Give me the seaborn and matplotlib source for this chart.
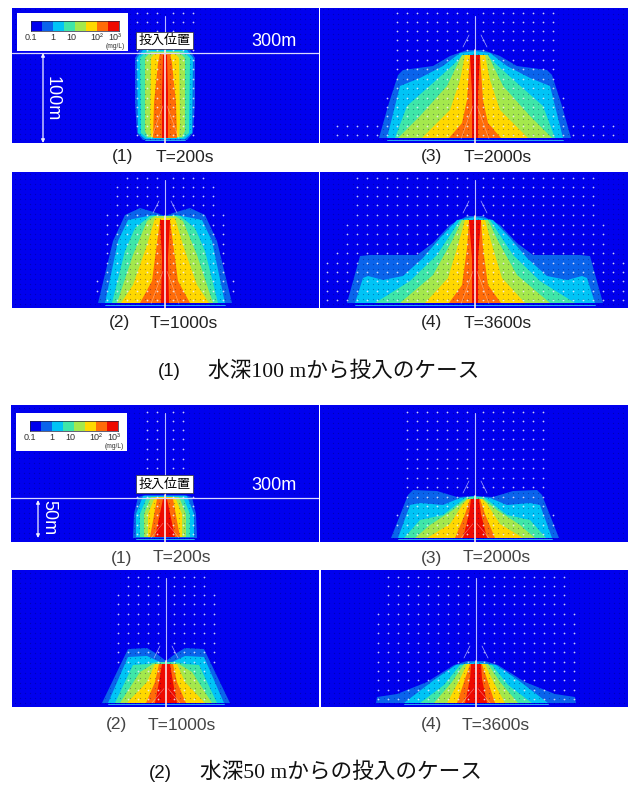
import numpy as np
import pandas as pd
import matplotlib
matplotlib.use("Agg")
import matplotlib.pyplot as plt
from matplotlib.colors import ListedColormap
import seaborn as sns

sns.set_theme(style="white")
plt.rcParams['font.family'] = ['Liberation Sans', 'Noto Sans CJK JP', 'DejaVu Sans']

W, H = 628, 785
BG = '#0000ee'
BAND_COLORS = ['#0a64ec', '#00c4f6', '#3fe6a8', '#a4e84c', '#ffd800', '#ff6c08', '#ee0a00']
KEY_VALUES = [[0, 1, 2, 3, 4, 5, 6, 7]]
KEY_LABELS = ['0.1', '1', '10', '10²', '10³']

# contour outlines: (half-width, height above seabed) in metres-like units
A1 = [[(22, 3), (28, 10), (30, 40), (30, 85), (25, 93)],
      [(20, 4), (27, 10), (28, 85), (22, 93)],
      [(18, 5), (24, 10), (25, 85), (18, 92)],
      [(17, 6), (20, 12), (20, 85), (14, 91)],
      [(14, 6), (15, 20), (14, 85), (10, 90)],
      [(12, 5), (11, 40), (7, 80), (5, 90)],
      [(3, 5), (3, 50), (2, 88)]]
A2 = [[(67, 5), (52, 67), (40, 93), (25, 100), (8, 95), (0, 92)],
      [(60, 5), (47, 67), (37, 88), (12, 93), (0, 92)],
      [(53, 5), (40, 57), (30, 80), (15, 92)],
      [(48, 5), (32, 53), (18, 87), (10, 92)],
      [(44, 5), (32, 23), (18, 63), (10, 90)],
      [(25, 5), (13, 27), (5, 88)],
      [(4, 5), (3, 50), (5, 88)]]
A3 = [[(96, 5), (87, 37), (77, 68), (72, 73), (42, 77), (25, 87), (8, 93), (0, 93)],
      [(88, 5), (75, 57), (55, 65), (32, 77), (15, 90), (0, 92)],
      [(80, 5), (68, 37), (42, 60), (22, 78), (12, 88)],
      [(77, 5), (55, 27), (28, 57), (13, 88)],
      [(53, 5), (25, 33), (15, 63), (10, 88)],
      [(26, 5), (13, 20), (8, 43), (5, 88)],
      [(3, 5), (3, 50), (5, 88)]]
A4 = [[(128, 5), (115, 52), (105, 53), (58, 53), (42, 65), (25, 83), (8, 92), (0, 92)],
      [(120, 5), (112, 30), (107, 32), (92, 28), (72, 32), (52, 50), (35, 70), (18, 88), (0, 91)],
      [(100, 5), (65, 27), (38, 53), (15, 88)],
      [(75, 5), (42, 33), (23, 67), (13, 88)],
      [(50, 5), (27, 30), (17, 63), (10, 88)],
      [(26, 5), (13, 23), (8, 60), (6, 88)],
      [(3, 5), (3, 50), (6, 88)]]
B1 = [[(32, 4), (31, 28), (27, 45), (20, 47)],
      [(29, 5), (29, 28), (22, 46)],
      [(25, 5), (25, 28), (18, 45)],
      [(21, 5), (21, 28), (14, 45)],
      [(17, 5), (17, 28), (10, 45)],
      [(15, 5), (8, 43)],
      [(10, 5), (2, 43)]]
B2 = [[(64, 4), (38, 58), (19, 59), (9, 53), (0, 46)],
      [(58, 4), (38, 50), (19, 51), (6, 45), (0, 45)],
      [(51, 4), (33, 42), (19, 43), (9, 45)],
      [(46, 4), (26, 35), (13, 43)],
      [(39, 4), (19, 25), (11, 43)],
      [(20, 4), (11, 25), (7, 43)],
      [(11, 4), (7, 25), (4, 43)]]
B3 = [[(84, 4), (67, 47), (62, 52), (38, 51), (18, 45), (0, 46)],
      [(77, 4), (65, 37), (55, 39), (32, 37), (15, 44), (0, 46)],
      [(71, 4), (55, 22), (32, 27), (15, 40), (8, 45)],
      [(60, 4), (45, 17), (22, 32), (8, 43)],
      [(48, 4), (25, 18), (12, 38), (7, 43)],
      [(20, 4), (10, 28), (5, 43)],
      [(12, 4), (6, 28), (4, 43)]]
B4 = [[(100, 4), (99, 10), (79, 13), (49, 25), (22, 42), (9, 46), (0, 46)],
      [(72, 4), (42, 27), (20, 42), (0, 45)],
      [(56, 4), (32, 22), (16, 42)],
      [(42, 4), (24, 25), (12, 43)],
      [(29, 4), (16, 28), (9, 43)],
      [(19, 4), (11, 28), (6, 43)],
      [(11, 4), (6, 28), (5, 43)]]

# extent of the white velocity markers on each row, top row first
V_A1 = [28, 28, 8, 8, 28, 28, 28, 28, 28, 28, 28, 28, 28, 28]
V_A2 = [38, 48, 48, 48, 58, 58, 58, 58, 58, 58, 58, 68, 68, 58]
V_A3 = [78, 78, 78, 78, 78, 87, 87, 87, 87, 97, 97, 97, 145, 145]
V_A4 = [118, 118, 118, 118, 118, 128, 128, 128, 138, 148, 148, 148, 148, 148]
V_B1 = [20, 20, 20, 20, 20, 20, 20, 20, 20, 30, 30, 30, 30, 30]
V_B2 = [38, 38, 48, 48, 48, 48, 48, 48, 48, 48, 38, 38, 38, 38]
V_B3 = [68, 68, 68, 68, 68, 68, 68, 68, 68, 68, 68, 78, 78, 68]
V_B4 = [97, 97, 97, 97, 107, 107, 107, 107, 107, 107, 107, 107, 107, 107]
ROW_HEIGHTS = [130, 121, 112, 103, 93, 83, 74, 64, 55, 45, 36, 27, 17, 8]
COLUMN_OFFSETS = [8, 18, 28, 38, 48, 58, 68, 78, 88, 98, 108, 118, 128, 138, 148]

PANELS = [
    # bands, velocity, left, right, top, bottom, centre
    (A1, V_A1, 12, 319, 8, 143, 165),
    (A3, V_A3, 320, 628, 8, 143, 475),
    (A2, V_A2, 12, 319, 172, 308, 165),
    (A4, V_A4, 320, 628, 172, 308, 475),
    (B1, V_B1, 11, 319, 405, 542, 165),
    (B3, V_B3, 320, 628, 405, 542, 475),
    (B2, V_B2, 12, 319, 570, 707, 166),
    (B4, V_B4, 321, 628, 570, 707, 476),
]

fig = plt.figure(figsize=(W / 100, H / 100), dpi=100, facecolor='white')


def rect(l, t, r, b):
    return [l / W, 1 - b / H, (r - l) / W, (b - t) / H]


def put(x, y, s, **kw):
    kw.setdefault('ha', 'center')
    kw.setdefault('va', 'center')
    kw.setdefault('zorder', 30)
    fig.text(x / W, 1 - y / H, s, **kw)


axes = []
for bands, vel, l, r, t, b, c in PANELS:
    ax = fig.add_axes(rect(l, t, r, b))
    ax.set_xlim(l - c, r - c)
    ax.set_ylim(0, b - t)
    ax.set_facecolor(BG)
    ax.set_xticks([])
    ax.set_yticks([])
    for s in ax.spines.values():
        s.set_visible(False)
    for outline, col in zip(bands, BAND_COLORS):
        w = [p[0] for p in outline]
        h = [p[1] for p in outline]
        ax.fill(w + [-v for v in w[::-1]], h + h[::-1], color=col, lw=0, zorder=2)
    w0 = bands[1][0][0]
    ax.plot([-w0, w0], [3.5, 3.5], color='#30c8f0', lw=0.6, zorder=3)

    # fine mesh marks and white velocity markers
    mx, my = np.meshgrid(np.arange(l - c + 3, r - c, 5.0), np.arange(4, b - t, 5.0))
    sns.scatterplot(x=mx.ravel(), y=my.ravel(), ax=ax, s=0.8, color='#000050',
                    linewidth=0, alpha=0.35, zorder=4, legend=False)
    rows = [(sgn * o, rh) for rh, e in zip(ROW_HEIGHTS, vel)
            for o in COLUMN_OFFSETS if o <= e for sgn in (-1, 1)]
    vf = pd.DataFrame(rows, columns=['x', 'y'])
    sns.scatterplot(data=vf, x='x', y='y', ax=ax, s=1.6, color='#eeeeff',
                    linewidth=0, alpha=0.85, zorder=5, legend=False)
    ax.set_xlabel('')
    ax.set_ylabel('')

    top = bands[0][-1][1]
    ax.plot([0, 0], [top, b - t - 8], color='#b8b8ff', lw=0.8, zorder=6)
    ax.plot([0, 0], [0, top], color='#ffe6e6', lw=1.2, zorder=6)
    for sgn in (-1, 1):
        ax.plot([sgn * 12, sgn * 6], [top + 3, top + 15], color='#a8a8ff', lw=0.5, zorder=6)
        ax.plot([sgn * 2, sgn * 14], [top * 0.4, 4], color='#ffffff', lw=0.4, alpha=0.45, zorder=6)
    axes.append(ax)

# surface reference lines and depth arrows
arrow = dict(arrowstyle='<|-|>', color='#f0f0ff', lw=0.9, mutation_scale=5, shrinkA=0, shrinkB=0)
axes[0].plot([-153, 154], [90, 90], color='#d8d8ff', lw=0.9, zorder=8)
axes[0].annotate('', xy=(-122, 0), xytext=(-122, 90), arrowprops=arrow, zorder=9)
axes[4].plot([-154, 154], [44, 44], color='#d8d8ff', lw=0.9, zorder=8)
axes[4].annotate('', xy=(-127, 4), xytext=(-127, 42), arrowprops=arrow, zorder=9)

put(274, 42, '300m', color='white', fontsize=13)
put(274, 486, '300m', color='white', fontsize=13)
put(52, 99, '100m', color='white', fontsize=13, rotation=-90)
put(49, 518, '50m', color='white', fontsize=13, rotation=-90)

for y in (40.5, 484):
    put(164.5, y, '投入位置', color='black', fontsize=9.4,
        family=['Noto Sans CJK JP', 'DejaVu Sans'],
        bbox=dict(boxstyle='square,pad=0.18', fc='white', ec='#303030', lw=0.5))

# colour keys
for l, t in ((17, 13), (16, 413)):
    box = fig.add_axes(rect(l, t, l + 111, t + 38), zorder=20)
    box.set_facecolor('white')
    box.set_xticks([])
    box.set_yticks([])
    for s in box.spines.values():
        s.set_visible(False)
    key = fig.add_axes(rect(l + 14, t + 8, l + 102, t + 18), zorder=21)
    sns.heatmap(np.array(KEY_VALUES), ax=key, cmap=ListedColormap(['#0000ee'] + BAND_COLORS),
                cbar=False, xticklabels=False, yticklabels=False, vmin=-0.5, vmax=7.5)
    for s in key.spines.values():
        s.set_visible(True)
        s.set_color('#202040')
        s.set_linewidth(0.5)
    for lab, dx in zip(KEY_LABELS, (14, 36, 54, 80, 98)):
        put(l + dx, t + 24.5, lab, fontsize=6.5, color='#303030')
    put(l + 98, t + 33, '(mg/L)', fontsize=4.8, color='#303030')

CAPTIONS = [
    ('(1)', 'T=200s', 123, 185, 157, '#222222'),
    ('(3)', 'T=2000s', 432, 498, 157, '#222222'),
    ('(2)', 'T=1000s', 119, 184, 323, '#222222'),
    ('(4)', 'T=3600s', 432, 498, 323, '#222222'),
    ('(1)', 'T=200s', 122, 182, 558, '#444444'),
    ('(3)', 'T=2000s', 431, 497, 558, '#444444'),
    ('(2)', 'T=1000s', 117, 182, 725, '#444444'),
    ('(4)', 'T=3600s', 431, 496, 725, '#444444'),
]
for num, lab, xn, xt, y, col in CAPTIONS:
    put(xn, y, num, fontsize=12.5, color=col)
    put(xt, y, lab, fontsize=12.5, color=col)

serif = ['Liberation Serif', 'Noto Sans CJK JP', 'DejaVu Sans']
put(169, 372, '(1)', fontsize=13.5, color='#111111')
put(208, 372, '水深100 mから投入のケース', fontsize=15.6, ha='left', family=serif, color='#111111')
put(160, 773, '(2)', fontsize=13.5, color='#111111')
put(200, 773, '水深50 mからの投入のケース', fontsize=15.6, ha='left', family=serif, color='#111111')

fig.savefig('out.png', dpi=100)
